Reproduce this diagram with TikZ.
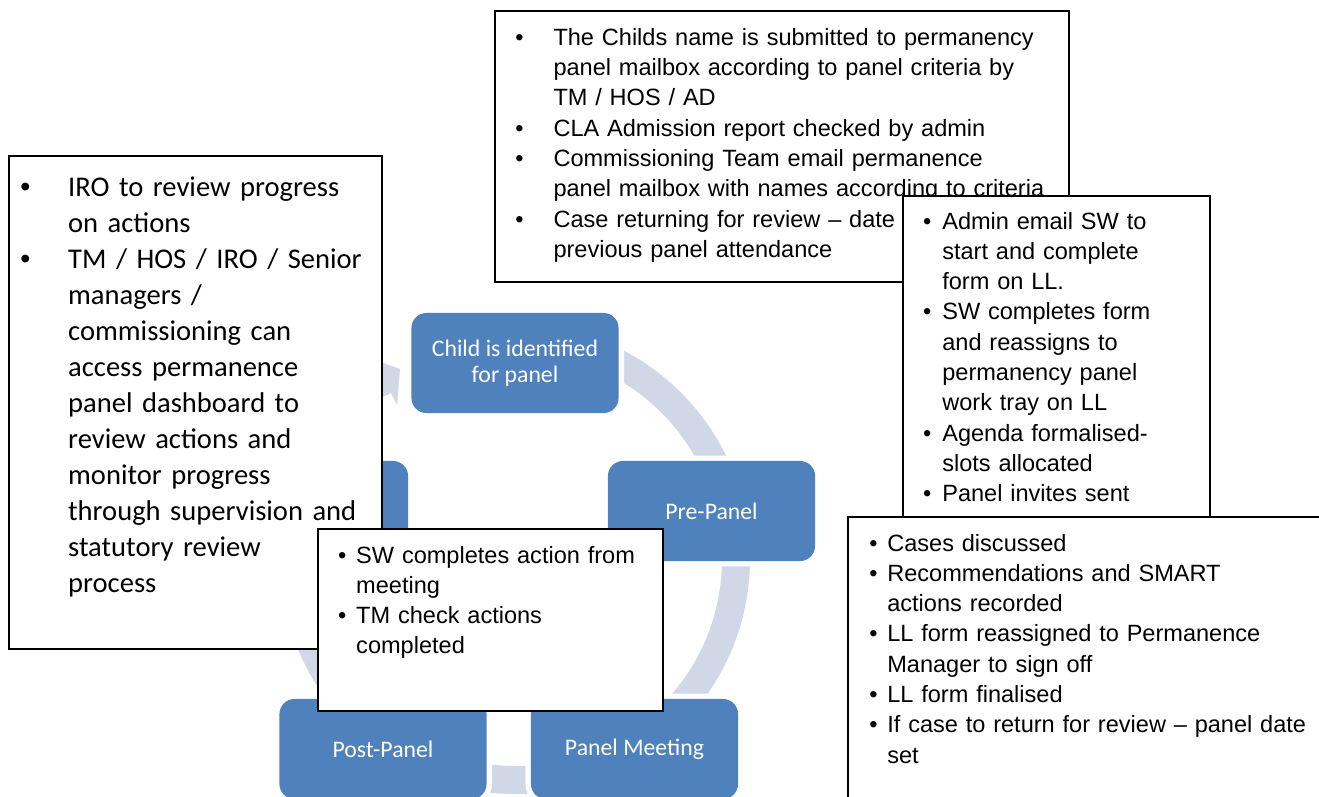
\documentclass[tikz,border=0pt]{standalone}
\usepackage{fontspec}
\setmainfont{Liberation Sans}
\newfontfamily\calibri{Carlito}
\usepackage{enumitem}
\usepackage{tikz}
\definecolor{stageblue}{RGB}{79,129,189}
\definecolor{ringblue}{RGB}{208,216,232}
\tikzstyle{stage} = [rectangle, rounded corners=6.9pt, minimum width=95pt, minimum height=45.9pt, inner sep=0pt, fill=stageblue, preaction={draw=white, line width=5pt}, text=white, align=center, font=\calibri\fontsize{10.9}{12.2}\selectfont]
\tikzstyle{note} = [rectangle, draw=black, line width=0.8pt, fill=white, inner sep=0pt, anchor=north west]
\tikzstyle{notetext} = [anchor=base west, inner sep=0pt, font=\fontsize{10.8}{13.9}\selectfont]

\begin{document}
\begin{tikzpicture}[x=0.4587pt, y=-0.4587pt]
\useasboundingbox (0,0) rectangle (1319,796);
\clip (0,0) rectangle (1319,796);
\fill[white] (0,0) rectangle (1319,796);

% Cycle ring and arrow head
\begin{scope}[shift={(515,559)}]
\fill[ringblue] (275:235) arc[start angle=275, end angle=588, radius=235]
  -- (588:207) arc[start angle=588, end angle=275, radius=207] -- cycle;
\end{scope}
\fill[ringblue] (372,359) -- (400,369) -- (397,405) -- (391,393) -- (372,402) -- cycle;

% Stages
\node (identified) [stage] at (515,363) {Child is identified\\for panel};
\node (prepanel) [stage] at (711.5,511) {Pre-Panel};
\node (meeting) [stage] at (634.5,749) {Panel Meeting};
\node (postpanel) [stage] at (383,749) {Post-Panel};
\node (review) [stage] at (304.5,511) {};

% Notes (the list starts one line below the anchor)
\node (iro) [note, minimum width=171.1pt, minimum height=226.1pt] at (8,155) {};
\node (irotext) [notetext, text width=165pt, font=\calibri\fontsize{13.1}{16.5}\selectfont] at (8,161) {%
\begin{itemize}[nosep, leftmargin=27.4pt, labelsep=17.3pt, labelwidth=5pt, label=\normalfont\textbullet]
\item IRO to review progress\newline on actions
\item TM / HOS / IRO / Senior\newline managers /\newline commissioning can\newline access permanence\newline panel dashboard to\newline review actions and\newline monitor progress\newline through supervision and\newline statutory review\newline process
\end{itemize}};

\node (child) [note, minimum width=263.3pt, minimum height=124.3pt] at (494,10) {};
\node (childtext) [notetext, text width=257pt] at (494,15) {%
\begin{itemize}[nosep, leftmargin=27.1pt, labelsep=13.7pt, labelwidth=5pt]
\item The Childs name is submitted to permanency\newline panel mailbox according to panel criteria by\newline TM / HOS / AD
\item CLA Admission report checked by admin
\item Commissioning Team email permanence\newline panel mailbox with names according to criteria
\item Case returning for review – date\newline previous panel attendance
\end{itemize}};

\node (post) [note, minimum width=158.3pt, minimum height=83.5pt] at (317,528) {};
\node (posttext) [notetext, text width=153pt] at (317,532.7) {%
\begin{itemize}[nosep, leftmargin=17.8pt, labelsep=4.5pt, labelwidth=5pt]
\item SW completes action from\newline meeting
\item TM check actions\newline completed
\end{itemize}};

\node (pre) [note, minimum width=140.8pt, minimum height=153.7pt] at (902,195) {};
\node (pretext) [notetext, text width=135pt] at (902,198.7) {%
\begin{itemize}[nosep, leftmargin=18.3pt, labelsep=5pt, labelwidth=5pt]
\item Admin email SW to\newline start and complete\newline form on LL.
\item SW completes form\newline and reassigns to\newline permanency panel\newline work tray on LL
\item Agenda formalised-\newline slots allocated
\item Panel invites sent
\end{itemize}};

\node (panel) [note, minimum width=226.1pt, minimum height=139.4pt] at (847,516) {};
\node (paneltext) [notetext, text width=220pt] at (847,520.7) {%
\begin{itemize}[nosep, leftmargin=18.3pt, labelsep=4.5pt, labelwidth=5pt]
\item Cases discussed
\item Recommendations and SMART\newline actions recorded
\item LL form reassigned to Permanence\newline Manager to sign off
\item LL form finalised
\item If case to return for review – panel date\newline set
\end{itemize}};
\end{tikzpicture}
\end{document}
